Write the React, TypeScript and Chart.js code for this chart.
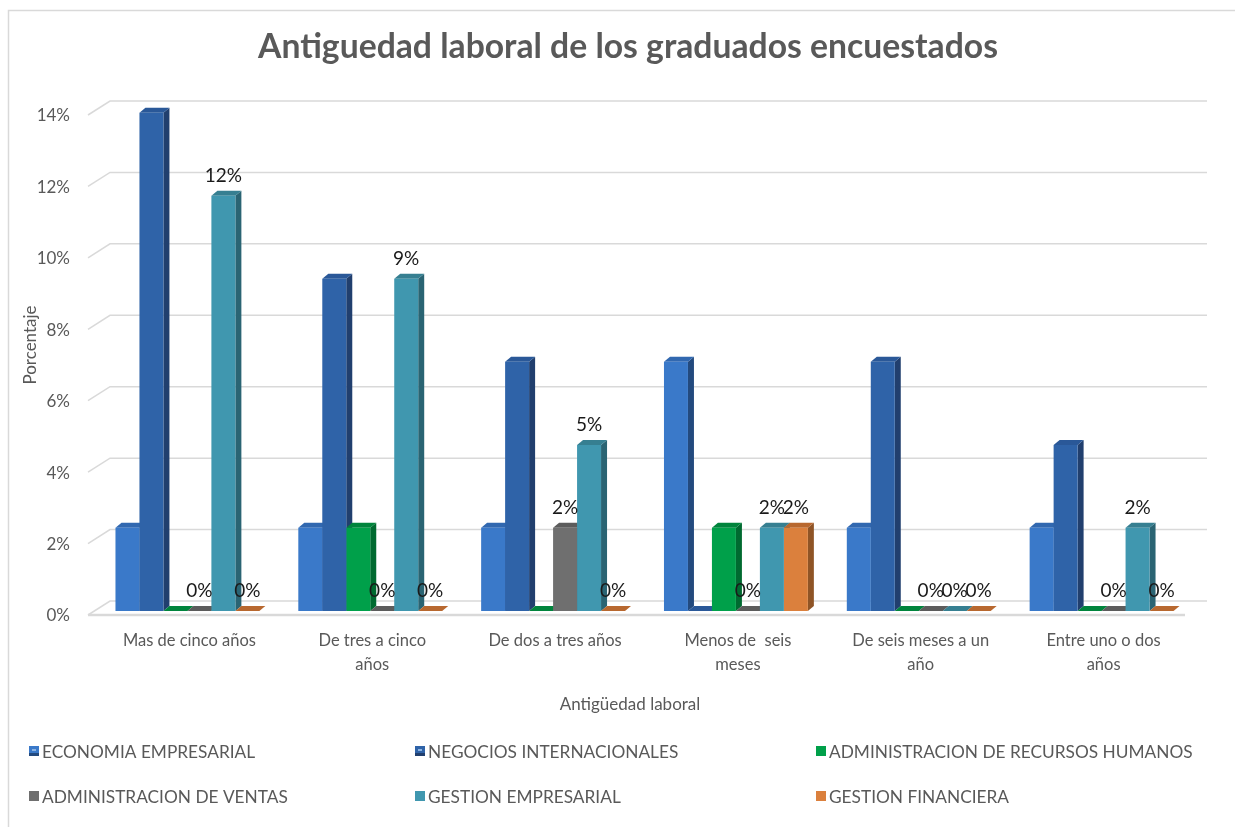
import React, { useEffect, useRef } from "react";
import { Chart, registerables } from "chart.js";
Chart.register(...registerables);

const categories: (string | string[])[] = [
  "Mas de cinco años",
  ["De tres a cinco", "años"],
  "De dos a tres años",
  ["Menos de  seis", "meses"],
  ["De seis meses a un", "año"],
  ["Entre uno o dos", "años"],
];

const seriesNames = [
  "ECONOMIA EMPRESARIAL",
  "NEGOCIOS INTERNACIONALES",
  "ADMINISTRACION DE RECURSOS HUMANOS",
  "ADMINISTRACION DE VENTAS",
  "GESTION EMPRESARIAL",
  "GESTION FINANCIERA",
];

const economiaEmpresarial = [2.33, 2.33, 2.33, 6.98, 2.33, 2.33];
const negociosInternacionales = [13.95, 9.3, 6.98, 0, 6.98, 4.65];
const adminRecursosHumanos = [0, 2.33, 0, 2.33, 0, 0];
const adminVentas = [0, 0, 2.33, 0, 0, 0];
const gestionEmpresarial = [11.63, 9.3, 4.65, 2.33, 0, 2.33];
const gestionFinanciera = [0, 0, 0, 2.33, 0, 0];

const yTickStep = 2;
const yMax = 14;
const labelledSeries = [3, 4, 5];

const frontColors = ["#3A79C9", "#2F63A8", "#00A04A", "#6F6F6F", "#4097AF", "#DB803D"];
const sideColors = ["#234A7E", "#213F6E", "#006A30", "#4C4C4C", "#2A6473", "#8F5426"];
const topColors = ["#3168B0", "#2A5898", "#00843C", "#5C5C5C", "#367F91", "#B8682F"];

const DX = 6;
const DY = 5;
const FONT = "Lato, 'Open Sans', sans-serif";
const GREY = "#595959";

const threeDPlugin = {
  id: "threeD",
  beforeDraw(chart: any) {
    const ctx = chart.ctx;
    ctx.save();
    ctx.fillStyle = "#ffffff";
    ctx.fillRect(0, 0, chart.width, chart.height);
    // frame
    ctx.strokeStyle = "#D9D9D9";
    ctx.lineWidth = 1.5;
    ctx.beginPath();
    ctx.moveTo(8.5, chart.height + 2);
    ctx.lineTo(8.5, 10.5);
    ctx.lineTo(chart.width + 2, 10.5);
    ctx.stroke();
    // title
    ctx.fillStyle = GREY;
    ctx.font = `bold 33.7px ${FONT}`;
    ctx.textAlign = "center";
    ctx.textBaseline = "middle";
    ctx.fillText("Antiguedad laboral de los graduados encuestados", 628, 47);
    // axis titles
    ctx.font = `17px ${FONT}`;
    ctx.fillText("Antigüedad laboral", 630, 705);
    ctx.save();
    ctx.translate(31, 345);
    ctx.rotate(-Math.PI / 2);
    ctx.fillText("Porcentaje", 0, 0);
    ctx.restore();
    // legend
    const pos = [
      [29, 751], [415, 751], [816, 751],
      [29, 796], [415, 796], [816, 796],
    ];
    ctx.textAlign = "left";
    ctx.font = `17.3px ${FONT}`;
    seriesNames.forEach((name, i) => {
      const [x, y] = pos[i];
      ctx.fillStyle = frontColors[i];
      ctx.fillRect(x, y - 5, 10, 10);
      if (i < 2) {
        ctx.fillStyle = sideColors[i];
        ctx.fillRect(x, y + 2, 10, 3);
        ctx.fillStyle = "#8DB4E2";
        ctx.fillRect(x + 3, y - 2, 4, 2);
      }
      ctx.fillStyle = GREY;
      ctx.fillText(name, x + 13, y + 1);
    });
    ctx.restore();
  },
  beforeDatasetsDraw(chart: any) {
    const ctx = chart.ctx;
    const ys = chart.scales.y;
    ctx.save();
    // 3D gridlines
    ctx.strokeStyle = "#D9D9D9";
    ctx.lineWidth = 1.5;
    for (let v = 0; v <= yMax; v += yTickStep) {
      const yb = ys.getPixelForValue(v);
      ctx.beginPath();
      ctx.moveTo(88, yb + 4);
      ctx.lineTo(110, yb - 10);
      ctx.lineTo(1207, yb - 10);
      ctx.stroke();
    }
    const y0 = ys.getPixelForValue(0);
    ctx.lineWidth = 2.5;
    ctx.beginPath();
    ctx.moveTo(88, y0 + 4);
    ctx.lineTo(1185, y0 + 4);
    ctx.stroke();
    // sides and tops of bars
    const n = chart.data.labels.length;
    for (let j = 0; j < n; j++) {
      chart.data.datasets.forEach((ds: any, i: number) => {
        const meta = chart.getDatasetMeta(i);
        const el = meta.data[j];
        if (!el) return;
        const { x, y, base, width } = el.getProps(["x", "y", "base", "width"], true);
        const left = x - width / 2;
        const right = x + width / 2;
        const v = ds.data[j];
        if (v > 0) {
          ctx.fillStyle = sideColors[i];
          ctx.beginPath();
          ctx.moveTo(right, y);
          ctx.lineTo(right + DX, y - DY);
          ctx.lineTo(right + DX, base - DY);
          ctx.lineTo(right, base);
          ctx.closePath();
          ctx.fill();
        }
        ctx.fillStyle = topColors[i];
        ctx.beginPath();
        ctx.moveTo(left, y);
        ctx.lineTo(right, y);
        ctx.lineTo(right + DX, y - DY);
        ctx.lineTo(left + DX, y - DY);
        ctx.closePath();
        ctx.fill();
      });
    }
    ctx.restore();
  },
  afterDatasetsDraw(chart: any) {
    const ctx = chart.ctx;
    ctx.save();
    ctx.fillStyle = "#1a1a1a";
    ctx.font = `19px ${FONT}`;
    ctx.textAlign = "center";
    ctx.textBaseline = "alphabetic";
    labelledSeries.forEach((i) => {
      const meta = chart.getDatasetMeta(i);
      const ds = chart.data.datasets[i];
      meta.data.forEach((el: any, j: number) => {
        const { x, y } = el.getProps(["x", "y"], true);
        ctx.fillText(Math.round(ds.data[j]) + "%", x, y - 14);
      });
    });
    ctx.restore();
  },
};

export default function App() {
  const ref = useRef<HTMLCanvasElement | null>(null);
  useEffect(() => {
    document.body.style.margin = "0";
    if (!ref.current) return;
    const seriesData = [
      economiaEmpresarial,
      negociosInternacionales,
      adminRecursosHumanos,
      adminVentas,
      gestionEmpresarial,
      gestionFinanciera,
    ];
    const chart = new Chart(ref.current, {
      type: "bar",
      data: {
        labels: categories as any,
        datasets: seriesData.map((d, i) => ({
          label: seriesNames[i],
          data: d,
          backgroundColor: frontColors[i],
          borderWidth: 0,
          categoryPercentage: 0.787,
          barPercentage: 1,
        })),
      },
      options: {
        responsive: false,
        animation: false,
        layout: { padding: { left: 0, right: 42, top: 111, bottom: 0 } },
        plugins: {
          legend: { display: false },
          title: { display: false },
          tooltip: { enabled: false },
        },
        scales: {
          x: {
            grid: { display: false, drawTicks: false },
            border: { display: false },
            ticks: {
              color: GREY,
              font: { family: FONT, size: 16.5, lineHeight: 1.45 },
              padding: 18,
              labelOffset: 2,
              maxRotation: 0,
              autoSkip: false,
            },
            afterFit: (s: any) => {
              s.height = 216;
            },
          },
          y: {
            min: 0,
            max: yMax,
            grid: { display: false, drawTicks: false },
            border: { display: false },
            ticks: {
              stepSize: yTickStep,
              color: GREY,
              font: { family: FONT, size: 17 },
              padding: 26,
              labelOffset: 5,
              callback: (v: any) => v + "%",
            },
            afterFit: (s: any) => {
              s.width = 96;
            },
          },
        },
      },
      plugins: [threeDPlugin],
    });
    return () => chart.destroy();
  }, []);
  return <canvas ref={ref} width={1235} height={827} style={{ display: "block" }} />;
}
